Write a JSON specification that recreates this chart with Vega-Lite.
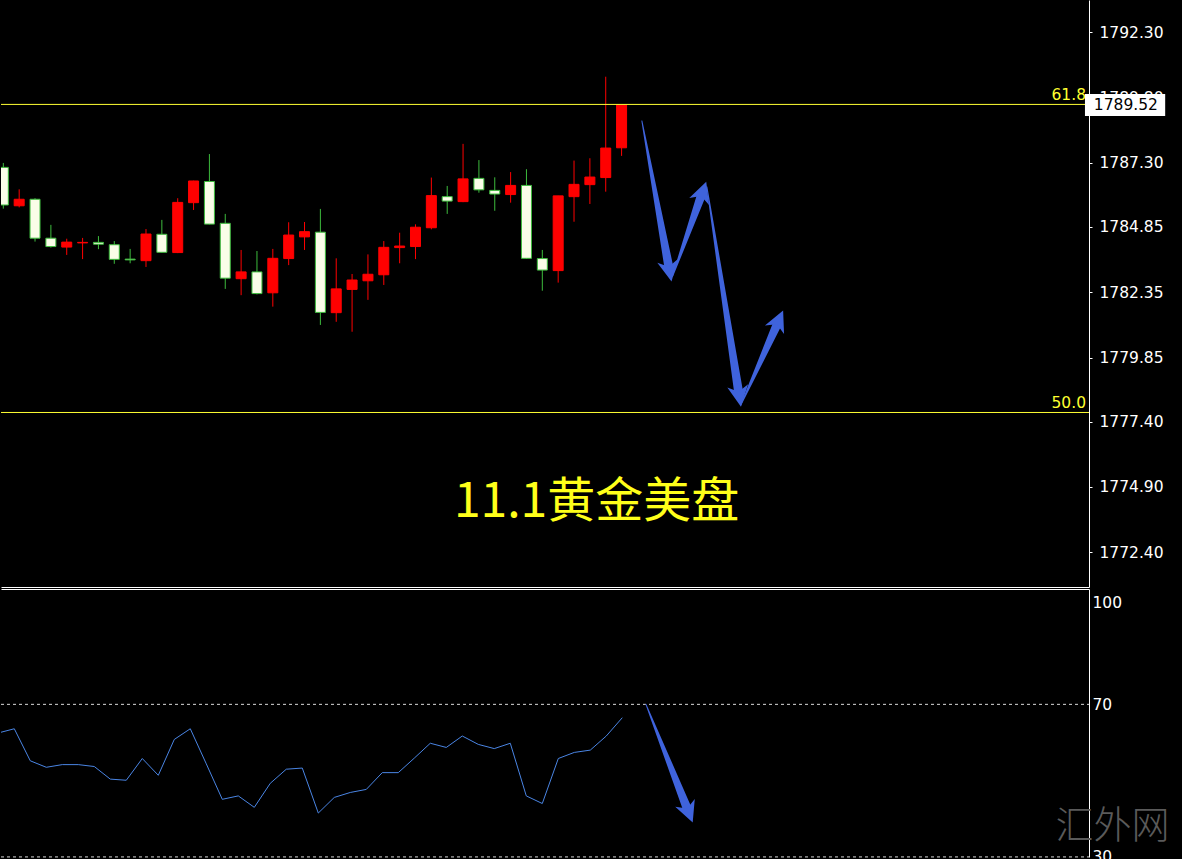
{
  "$schema": "https://vega.github.io/schema/vega-lite/v6.json",
  "background": "#000000",
  "padding": {"left": 0, "top": 0, "right": 12, "bottom": 0},
  "spacing": 2,
  "config": {
    "view": {"stroke": null, "fill": "#000000"},
    "axis": {
      "labelFont": "DejaVu Sans",
      "labelFontSize": 15.5,
      "labelColor": "#ffffff",
      "domainColor": "#ffffff",
      "domainWidth": 1,
      "tickColor": "#ffffff",
      "grid": false
    }
  },
  "datasets": {
    "bars": [
      {"t": -1, "open": 1787.13, "high": 1787.30, "low": 1785.55, "close": 1785.69, "rsi": 62.5},
      {"t": 0, "open": 1785.66, "high": 1786.29, "low": 1785.60, "close": 1785.91, "rsi": 63.6},
      {"t": 1, "open": 1785.91, "high": 1785.95, "low": 1784.29, "close": 1784.42, "rsi": 55.2},
      {"t": 2, "open": 1784.42, "high": 1784.93, "low": 1784.06, "close": 1784.10, "rsi": 53.5},
      {"t": 3, "open": 1784.08, "high": 1784.40, "low": 1783.78, "close": 1784.27, "rsi": 54.2},
      {"t": 4, "open": 1784.24, "high": 1784.43, "low": 1783.62, "close": 1784.26, "rsi": 54.2},
      {"t": 5, "open": 1784.26, "high": 1784.50, "low": 1784.00, "close": 1784.19, "rsi": 53.7},
      {"t": 6, "open": 1784.17, "high": 1784.31, "low": 1783.44, "close": 1783.61, "rsi": 50.4},
      {"t": 7, "open": 1783.62, "high": 1784.01, "low": 1783.46, "close": 1783.59, "rsi": 50.1},
      {"t": 8, "open": 1783.56, "high": 1784.77, "low": 1783.32, "close": 1784.58, "rsi": 55.8},
      {"t": 9, "open": 1784.57, "high": 1785.12, "low": 1783.87, "close": 1783.88, "rsi": 51.4},
      {"t": 10, "open": 1783.87, "high": 1785.95, "low": 1783.85, "close": 1785.79, "rsi": 60.8},
      {"t": 11, "open": 1785.78, "high": 1786.62, "low": 1785.50, "close": 1786.61, "rsi": 63.6},
      {"t": 12, "open": 1786.59, "high": 1787.64, "low": 1784.95, "close": 1784.96, "rsi": 54.4},
      {"t": 13, "open": 1784.99, "high": 1785.35, "low": 1782.48, "close": 1782.89, "rsi": 45.1},
      {"t": 14, "open": 1782.87, "high": 1783.97, "low": 1782.24, "close": 1783.13, "rsi": 46.0},
      {"t": 15, "open": 1783.13, "high": 1783.93, "low": 1782.27, "close": 1782.30, "rsi": 43.0},
      {"t": 16, "open": 1782.33, "high": 1784.01, "low": 1781.80, "close": 1783.65, "rsi": 49.3},
      {"t": 17, "open": 1783.64, "high": 1785.03, "low": 1783.39, "close": 1784.54, "rsi": 53.0},
      {"t": 18, "open": 1784.47, "high": 1785.04, "low": 1783.97, "close": 1784.67, "rsi": 53.3},
      {"t": 19, "open": 1784.65, "high": 1785.54, "low": 1781.10, "close": 1781.58, "rsi": 41.5},
      {"t": 20, "open": 1781.57, "high": 1783.65, "low": 1781.22, "close": 1782.48, "rsi": 45.6},
      {"t": 21, "open": 1782.46, "high": 1783.05, "low": 1780.84, "close": 1782.82, "rsi": 46.9},
      {"t": 22, "open": 1782.79, "high": 1783.80, "low": 1782.06, "close": 1783.04, "rsi": 47.7},
      {"t": 23, "open": 1783.02, "high": 1784.31, "low": 1782.63, "close": 1784.07, "rsi": 52.1},
      {"t": 24, "open": 1784.06, "high": 1784.63, "low": 1783.46, "close": 1784.12, "rsi": 52.1},
      {"t": 25, "open": 1784.10, "high": 1784.95, "low": 1783.62, "close": 1784.84, "rsi": 55.9},
      {"t": 26, "open": 1784.82, "high": 1786.74, "low": 1784.76, "close": 1786.05, "rsi": 59.8},
      {"t": 27, "open": 1786.01, "high": 1786.42, "low": 1785.35, "close": 1785.84, "rsi": 58.7},
      {"t": 28, "open": 1785.82, "high": 1788.03, "low": 1785.80, "close": 1786.69, "rsi": 61.7},
      {"t": 29, "open": 1786.71, "high": 1787.41, "low": 1786.16, "close": 1786.27, "rsi": 59.5},
      {"t": 30, "open": 1786.25, "high": 1786.75, "low": 1785.47, "close": 1786.11, "rsi": 58.4},
      {"t": 31, "open": 1786.09, "high": 1786.95, "low": 1785.78, "close": 1786.44, "rsi": 59.8},
      {"t": 32, "open": 1786.44, "high": 1787.06, "low": 1783.63, "close": 1783.65, "rsi": 46.0},
      {"t": 33, "open": 1783.64, "high": 1783.97, "low": 1782.41, "close": 1783.20, "rsi": 44.0},
      {"t": 34, "open": 1783.18, "high": 1786.04, "low": 1782.72, "close": 1786.04, "rsi": 55.8},
      {"t": 35, "open": 1786.01, "high": 1787.39, "low": 1785.05, "close": 1786.48, "rsi": 57.4},
      {"t": 36, "open": 1786.47, "high": 1787.48, "low": 1785.73, "close": 1786.76, "rsi": 58.0},
      {"t": 37, "open": 1786.74, "high": 1790.60, "low": 1786.20, "close": 1787.87, "rsi": 61.7},
      {"t": 38, "open": 1787.88, "high": 1789.52, "low": 1787.57, "close": 1789.52, "rsi": 66.5}
    ],
    "fib": [
      {"level": "61.8", "price": 1789.54},
      {"level": "50.0", "price": 1777.75}
    ],
    "last": [
      {"price": 1789.52, "label": "1789.52"}
    ],
    "shafts": [
      {"arrow": 1, "pt": 0, "t": 39.28, "price": 1788.91},
      {"arrow": 1, "pt": 1, "t": 41.00, "price": 1783.25},
      {"arrow": 2, "pt": 0, "t": 41.21, "price": 1782.95},
      {"arrow": 2, "pt": 1, "t": 43.06, "price": 1786.11},
      {"arrow": 3, "pt": 0, "t": 43.38, "price": 1786.39},
      {"arrow": 3, "pt": 1, "t": 45.40, "price": 1778.46},
      {"arrow": 4, "pt": 0, "t": 45.53, "price": 1778.04},
      {"arrow": 4, "pt": 1, "t": 47.86, "price": 1781.19}
    ],
    "heads": [
      {"arrow": 1, "t": 41.15, "price": 1782.76, "heading": 169.4},
      {"arrow": 2, "t": 43.34, "price": 1786.58, "heading": 19.7},
      {"arrow": 3, "t": 45.53, "price": 1777.97, "heading": 171.1},
      {"arrow": 4, "t": 48.19, "price": 1781.65, "heading": 24.3}
    ],
    "rsiShaft": [
      {"pt": 0, "t": 39.48, "rsi": 70.0},
      {"pt": 1, "t": 42.10, "rsi": 42.2}
    ],
    "rsiHead": [
      {"t": 42.40, "rsi": 39.03, "heading": 158.5}
    ],
    "rsiLevels": [
      {"level": 70},
      {"level": 30}
    ]
  },
  "vconcat": [
    {
      "width": 1088,
      "height": 587,
      "layer": [
        {
          "data": {"name": "bars"},
          "mark": {"type": "rule", "strokeWidth": 1, "clip": true},
          "encoding": {
            "x": {"field": "t", "type": "quantitative",
                  "scale": {"domain": [-0.831, 67.169], "nice": false, "zero": false},
                  "axis": {"orient": "bottom", "labels": false, "ticks": false, "domain": true, "title": null}},
            "y": {"field": "low", "type": "quantitative",
                  "scale": {"domain": [1771.071, 1793.536], "nice": false, "zero": false},
                  "axis": {"orient": "right", "values": [1792.30, 1789.80, 1787.30, 1784.85, 1782.35, 1779.85, 1777.40, 1774.90, 1772.40],
                           "format": ".2f", "tickSize": 3, "labelPadding": 7, "domain": true, "title": null}},
            "y2": {"field": "high"},
            "color": {"condition": {"test": "datum.close > datum.open", "value": "#ff0000"}, "value": "#3dbb3d"}
          }
        },
        {
          "data": {"name": "bars"},
          "mark": {"type": "bar", "width": 10, "strokeWidth": 1, "clip": true},
          "encoding": {
            "x": {"field": "t", "type": "quantitative", "scale": {"domain": [-0.831, 67.169], "nice": false, "zero": false}},
            "y": {"field": "open", "type": "quantitative", "scale": {"domain": [1771.071, 1793.536], "nice": false, "zero": false}},
            "y2": {"field": "close"},
            "fill": {"condition": {"test": "datum.close > datum.open", "value": "#ff0000"}, "value": "#fafde8"},
            "stroke": {"condition": {"test": "datum.close > datum.open", "value": "#ff0000"}, "value": "#3dbb3d"}
          }
        },
        {
          "data": {"name": "fib"},
          "mark": {"type": "rule", "color": "#ffff33", "strokeWidth": 1},
          "encoding": {
            "y": {"field": "price", "type": "quantitative", "scale": {"domain": [1771.071, 1793.536], "nice": false, "zero": false}}
          }
        },
        {
          "data": {"name": "fib"},
          "mark": {"type": "text", "align": "right", "baseline": "alphabetic", "dx": 2, "dy": -4, "font": "DejaVu Sans", "fontSize": 15.5, "color": "#ffff30"},
          "encoding": {
            "x": {"datum": 67.169, "type": "quantitative", "scale": {"domain": [-0.831, 67.169], "nice": false, "zero": false}},
            "y": {"field": "price", "type": "quantitative", "scale": {"domain": [1771.071, 1793.536], "nice": false, "zero": false}},
            "text": {"field": "level"}
          }
        },
        {
          "data": {"name": "shafts"},
          "mark": {"type": "trail", "color": "#3f63dc"},
          "encoding": {
            "x": {"field": "t", "type": "quantitative", "scale": {"domain": [-0.831, 67.169], "nice": false, "zero": false}},
            "y": {"field": "price", "type": "quantitative", "scale": {"domain": [1771.071, 1793.536], "nice": false, "zero": false}},
            "detail": {"field": "arrow"},
            "order": {"field": "pt"},
            "size": {"field": "pt", "type": "quantitative", "scale": {"domain": [0, 1], "range": [1, 9]}, "legend": null}
          }
        },
        {
          "data": {"name": "heads"},
          "mark": {"type": "point", "shape": "M0,0L0.5,1L0,0.72L-0.5,1Z", "filled": true, "size": 1764, "color": "#3f63dc", "opacity": 1, "strokeWidth": 0},
          "encoding": {
            "x": {"field": "t", "type": "quantitative", "scale": {"domain": [-0.831, 67.169], "nice": false, "zero": false}},
            "y": {"field": "price", "type": "quantitative", "scale": {"domain": [1771.071, 1793.536], "nice": false, "zero": false}},
            "angle": {"field": "heading", "type": "quantitative", "scale": null}
          }
        },
        {
          "data": {"values": [{"caption": "11.1黄金美盘"}]},
          "mark": {"type": "text", "align": "center", "baseline": "middle", "font": "Noto Sans CJK SC", "fontSize": 48, "color": "#ffff1a"},
          "encoding": {
            "x": {"datum": 36.42, "type": "quantitative", "scale": {"domain": [-0.831, 67.169], "nice": false, "zero": false}},
            "y": {"datum": 1774.30, "type": "quantitative", "scale": {"domain": [1771.071, 1793.536], "nice": false, "zero": false}},
            "text": {"field": "caption"}
          }
        },
        {
          "data": {"name": "last"},
          "mark": {"type": "rect", "color": "#ffffff", "yOffset": -11, "y2Offset": 11},
          "encoding": {
            "x": {"datum": 67.23, "type": "quantitative", "scale": {"domain": [-0.831, 67.169], "nice": false, "zero": false}},
            "x2": {"datum": 72.29},
            "y": {"field": "price", "type": "quantitative", "scale": {"domain": [1771.071, 1793.536], "nice": false, "zero": false}},
            "y2": {"field": "price"}
          }
        },
        {
          "data": {"name": "last"},
          "mark": {"type": "text", "align": "left", "baseline": "middle", "font": "DejaVu Sans", "fontSize": 15.5, "color": "#000000"},
          "encoding": {
            "x": {"datum": 67.79, "type": "quantitative", "scale": {"domain": [-0.831, 67.169], "nice": false, "zero": false}},
            "y": {"field": "price", "type": "quantitative", "scale": {"domain": [1771.071, 1793.536], "nice": false, "zero": false}},
            "text": {"field": "label"}
          }
        }
      ]
    },
    {
      "width": 1088,
      "height": 268,
      "layer": [
        {
          "data": {"name": "rsiLevels"},
          "mark": {"type": "rule", "color": "#d8d8d8", "strokeWidth": 1, "strokeDash": [3, 3]},
          "encoding": {
            "x": {"datum": -0.831, "type": "quantitative",
                  "scale": {"domain": [-0.831, 67.169], "nice": false, "zero": false},
                  "axis": {"orient": "top", "labels": false, "ticks": false, "domain": true, "title": null}},
            "x2": {"datum": 67.169},
            "y": {"field": "level", "type": "quantitative",
                  "scale": {"domain": [29.98, 100.24], "nice": false, "zero": false},
                  "axis": {"orient": "right", "values": [100, 70, 30], "ticks": false, "labelPadding": 3, "domain": true, "title": null,
                           "labelOffset": {"condition": {"test": "datum.value == 100", "value": 13}, "value": 0}}}
          }
        },
        {
          "data": {"name": "bars"},
          "mark": {"type": "line", "color": "#4a85e4", "strokeWidth": 1, "clip": true},
          "encoding": {
            "x": {"field": "t", "type": "quantitative", "scale": {"domain": [-0.831, 67.169], "nice": false, "zero": false}},
            "y": {"field": "rsi", "type": "quantitative", "scale": {"domain": [29.98, 100.24], "nice": false, "zero": false}}
          }
        },
        {
          "data": {"name": "rsiShaft"},
          "mark": {"type": "trail", "color": "#3f63dc"},
          "encoding": {
            "x": {"field": "t", "type": "quantitative", "scale": {"domain": [-0.831, 67.169], "nice": false, "zero": false}},
            "y": {"field": "rsi", "type": "quantitative", "scale": {"domain": [29.98, 100.24], "nice": false, "zero": false}},
            "order": {"field": "pt"},
            "size": {"field": "pt", "type": "quantitative", "scale": {"domain": [0, 1], "range": [1, 10]}, "legend": null}
          }
        },
        {
          "data": {"name": "rsiHead"},
          "mark": {"type": "point", "shape": "M0,0L0.5,1L0,0.72L-0.5,1Z", "filled": true, "size": 1764, "color": "#3f63dc", "opacity": 1, "strokeWidth": 0},
          "encoding": {
            "x": {"field": "t", "type": "quantitative", "scale": {"domain": [-0.831, 67.169], "nice": false, "zero": false}},
            "y": {"field": "rsi", "type": "quantitative", "scale": {"domain": [29.98, 100.24], "nice": false, "zero": false}},
            "angle": {"field": "heading", "type": "quantitative", "scale": null}
          }
        },
        {
          "data": {"values": [{"mark": "汇外网"}]},
          "mark": {"type": "text", "align": "center", "baseline": "middle", "font": "Noto Sans CJK SC", "fontSize": 38, "fontWeight": 300, "color": "#5a5a5a"},
          "encoding": {
            "x": {"datum": 68.64, "type": "quantitative", "scale": {"domain": [-0.831, 67.169], "nice": false, "zero": false}},
            "y": {"datum": 37.8, "type": "quantitative", "scale": {"domain": [29.98, 100.24], "nice": false, "zero": false}},
            "text": {"field": "mark"}
          }
        }
      ]
    }
  ]
}
